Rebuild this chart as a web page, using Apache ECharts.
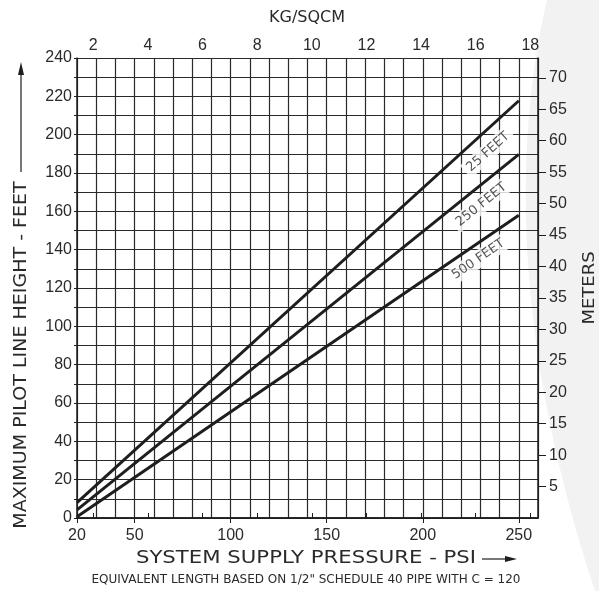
<!DOCTYPE html>
<html>
<head>
<meta charset="utf-8">
<script src="https://cdn.jsdelivr.net/npm/echarts@6/dist/echarts.min.js"></script>
<style>html,body{margin:0;padding:0;background:#fff;}#c{width:599px;height:591px;}</style>
</head>
<body>
<div id="c"></div>
<script>
// ---- data ----
const psiRange = [20, 260];
const feetRange = [0, 240];
const psiLabels = [20, 50, 100, 150, 200, 250];
const kgLabels = [2, 4, 6, 8, 10, 12, 14, 16, 18];
const feetLabels = [0, 20, 40, 60, 80, 100, 120, 140, 160, 180, 200, 220, 240];
const meterLabels = [5, 10, 15, 20, 25, 30, 35, 40, 45, 50, 55, 60, 65, 70];
const line25 = [[20, 8.0], [250, 217.7]];
const line250 = [[20, 4.2], [250, 189.7]];
const line500 = [[20, 0.7], [250, 158.0]];
const labelNames = ['25 FEET', '250 FEET', '500 FEET'];
const labelPos = [[234, 191], [230.5, 163.5], [229, 135]];
const labelAngles = [42, 39, 34.5];
const PSI_PER_KG = 14.2233;
const FT_PER_M = 3.28084;

const ink = '#1e1e1e';
const txt = '#2a2a2a';
const numFont = 'Liberation Sans';
const titleFont = 'DejaVu Sans';

// decorative background curve (page decoration, not data)
const bgPts = [];
(function () {
  const P0 = [547, 0], C1 = [512, 150], C2 = [515, 350], P3 = [595, 591];
  for (let i = 0; i <= 40; i++) {
    const t = i / 40, u = 1 - t;
    bgPts.push([
      u*u*u*P0[0] + 3*u*u*t*C1[0] + 3*u*t*t*C2[0] + t*t*t*P3[0],
      u*u*u*P0[1] + 3*u*u*t*C1[1] + 3*u*t*t*C2[1] + t*t*t*P3[1]
    ]);
  }
  bgPts.push([599, 591], [599, 0]);
})();

const chart = echarts.init(document.getElementById('c'), null, {renderer: 'canvas'});
const mkLine = (d) => ({
  type: 'line', data: d, xAxisIndex: 0, yAxisIndex: 0, symbol: 'none', z: 5,
  lineStyle: {color: ink, width: 3}, silent: true
});
const gridAxisX = {type: 'value', position: 'bottom', min: psiRange[0], max: psiRange[1], interval: 10,
  axisLine: {show: false}, axisTick: {show: false}, axisLabel: {show: false},
  splitLine: {show: true, lineStyle: {color: '#2a2a2a', width: 1.2}}};
const gridAxisY = {type: 'value', position: 'left', min: feetRange[0], max: feetRange[1], interval: 10,
  axisLine: {show: false}, axisTick: {show: true, length: 3, lineStyle: {color: ink}}, axisLabel: {show: false},
  splitLine: {show: true, lineStyle: {color: '#2a2a2a', width: 1.2}}};

chart.setOption({
  animation: false,
  backgroundColor: '#fff',
  graphic: [
    {type: 'polygon', z: -10, shape: {points: bgPts}, style: {fill: '#f2f2f2'}, silent: true},
    // titles
    {type: 'text', x: 307, y: 18, style: {text: 'KG/SQCM', font: '16px "DejaVu Sans"', fill: txt, align: 'center', verticalAlign: 'middle'}},
    {type: 'text', x: 306, y: 558, style: {text: 'SYSTEM SUPPLY PRESSURE - PSI', font: '18px "DejaVu Sans"', fill: txt, align: 'center', verticalAlign: 'middle'}, scaleX: 1.18},
    {type: 'text', x: 22, y: 355, rotation: Math.PI / 2, style: {text: 'MAXIMUM PILOT LINE HEIGHT - FEET', font: '17px "DejaVu Sans"', fill: txt, align: 'center', verticalAlign: 'middle'}, scaleX: 1.12},
    {type: 'text', x: 590, y: 288, rotation: Math.PI / 2, style: {text: 'METERS', font: '15px "DejaVu Sans"', fill: txt, align: 'center', verticalAlign: 'middle'}, scaleX: 1.2},
    {type: 'text', x: 306, y: 580, style: {text: 'EQUIVALENT LENGTH BASED ON 1/2" SCHEDULE 40 PIPE WITH C = 120', font: '12px "DejaVu Sans"', fill: txt, align: 'center', verticalAlign: 'middle'}},
    // arrows
    {type: 'line', shape: {x1: 482, y1: 559, x2: 508, y2: 559}, style: {stroke: ink, lineWidth: 1.2}},
    {type: 'polygon', shape: {points: [[505, 556], [517, 559], [505, 562]]}, style: {fill: ink}},
    {type: 'line', shape: {x1: 21, y1: 172, x2: 21, y2: 72}, style: {stroke: ink, lineWidth: 1.2}},
    {type: 'polygon', shape: {points: [[18, 75], [21, 62], [24, 75]]}, style: {fill: ink}}
  ],
  grid: {left: 77, right: 61, top: 58, bottom: 73, containLabel: false, outerBoundsMode: 'none'},
  xAxis: [
    {type: 'value', position: 'bottom', min: psiRange[0], max: psiRange[1],
     axisLine: {show: true, lineStyle: {color: ink, width: 1.5}},
     axisTick: {show: true, customValues: psiLabels, length: 5, lineStyle: {color: ink}},
     axisLabel: {customValues: psiLabels, color: txt, fontFamily: numFont, fontSize: 16, margin: 10},
     splitLine: {show: false}},
    {type: 'value', position: 'top', min: psiRange[0] / PSI_PER_KG, max: psiRange[1] / PSI_PER_KG,
     axisLine: {show: true, lineStyle: {color: ink, width: 1.5}},
     axisTick: {show: true, customValues: kgLabels, length: 5, lineStyle: {color: ink}},
     axisLabel: {customValues: kgLabels, color: txt, fontFamily: numFont, fontSize: 16, margin: 4},
     splitLine: {show: false}},
    gridAxisX
  ],
  yAxis: [
    {type: 'value', position: 'left', min: feetRange[0], max: feetRange[1],
     axisLine: {show: true, lineStyle: {color: ink, width: 1.5}},
     axisTick: {show: false},
     axisLabel: {customValues: feetLabels, color: txt, fontFamily: numFont, fontSize: 16, margin: 5},
     splitLine: {show: false}},
    {type: 'value', position: 'right', min: feetRange[0] / FT_PER_M, max: feetRange[1] / FT_PER_M,
     axisLine: {show: true, lineStyle: {color: ink, width: 1.5}},
     axisTick: {show: true, customValues: meterLabels, length: 8, lineStyle: {color: ink}},
     axisLabel: {customValues: meterLabels, color: txt, fontFamily: numFont, fontSize: 16, margin: 11},
     splitLine: {show: false}},
    gridAxisY
  ],
  series: [
    mkLine(line25), mkLine(line250), mkLine(line500),
    {type: 'scatter', xAxisIndex: 0, yAxisIndex: 0, symbolSize: 0, z: 4, silent: true,
     data: labelPos.map((p, i) => ({value: p, name: labelNames[i],
       label: {rotate: labelAngles[i]}})),
     label: {show: true, position: 'inside', formatter: (p) => p.name,
       fontFamily: titleFont, fontSize: 13, color: txt, backgroundColor: '#fff', padding: [2, 4]}}
  ]
});
</script>
</body>
</html>
